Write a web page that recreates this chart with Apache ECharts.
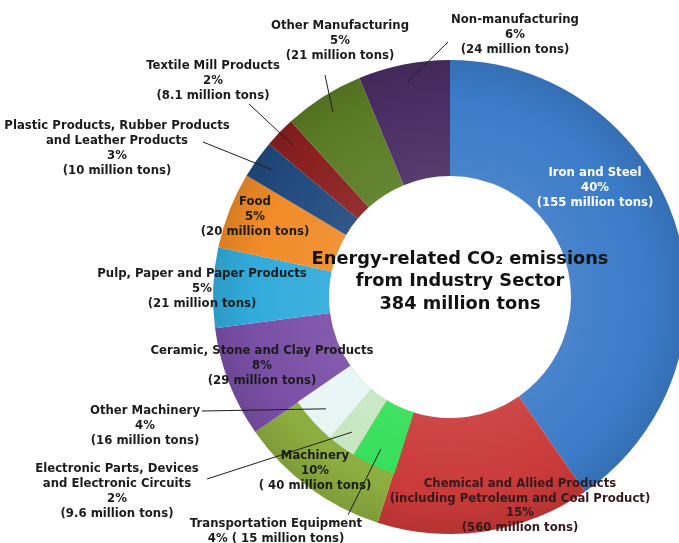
<!DOCTYPE html>
<html>
<head>
<meta charset="utf-8">
<script src="https://cdn.jsdelivr.net/npm/echarts@6/dist/echarts.min.js"></script>
<style>
  html, body { margin: 0; padding: 0; background: #ffffff; }
  #chart { width: 679px; height: 543px; }
</style>
</head>
<body>
<div id="chart"></div>
<script>
// Industry sectors, clockwise from 12 o'clock
const sectors = [
  'Iron and Steel',
  'Chemical and Allied Products\n(including Petroleum and Coal Product)',
  'Machinery',
  'Ceramic, Stone and Clay Products',
  'Pulp, Paper and Paper Products',
  'Food',
  'Plastic Products, Rubber Products\nand Leather Products',
  'Textile Mill Products',
  'Other Manufacturing',
  'Non-manufacturing'
];
// Emissions, million tons of CO2
const sectorTons = [155, 56, 40, 29, 21, 20, 10, 8.1, 21, 24];
// Share of the industry total, %
const sectorShares = [40, 15, 10, 8, 5, 5, 3, 2, 5, 6];
// Tonnage as printed on each label
const sectorTonsText = ['155', '560', ' 40', '29', '21', '20', '10', '8.1', '21', '24'];

// Breakdown of the Machinery sector, same clockwise order
const machinery = [
  'Transportation Equipment',
  'Electronic Parts, Devices\nand Electronic Circuits',
  'Other Machinery'
];
const machineryTons = [15, 9.6, 16];
const machineryShares = [4, 2, 4];
const machineryTonsText = [' 15', '9.6', '16'];

const totalTons = 384;

// ---- styling ----
const CX = 450, CY = 297;
const R_HOLE = 121, R_SPLIT = 185, R_OUT = 237;
const FONT = '"DejaVu Sans", Verdana, sans-serif';

const sectorColors = ['#3b7bc8', '#c93a39', '#8cad3f', '#7a4fa6', '#31abdb',
  '#f08b28', '#214a7e', '#8a2020', '#5b7c25', '#4a2d63'];
const machineryColors = ['#34df59', '#c6e7c2', '#e7f5f5'];

// Where each label sits (centre of the text block) and where its leader starts
const labelSpots = {
  'Iron and Steel': { x: 595, y: 188, color: '#ffffff' },
  'Chemical and Allied Products\n(including Petroleum and Coal Product)': { x: 520, y: 506, lh: 14.5, color: '#33191c' },
  'Machinery': { x: 315, y: 471 },
  'Ceramic, Stone and Clay Products': { x: 262, y: 366 },
  'Pulp, Paper and Paper Products': { x: 202, y: 289 },
  'Food': { x: 255, y: 217 },
  'Plastic Products, Rubber Products\nand Leather Products': { x: 117, y: 148, from: [203, 142] },
  'Textile Mill Products': { x: 213, y: 81, from: [249, 104] },
  'Other Manufacturing': { x: 340, y: 41, from: [325, 75] },
  'Non-manufacturing': { x: 515, y: 35, from: [448, 42] },
  'Transportation Equipment': { x: 276, y: 531, inline: true, from: [348, 515] },
  'Electronic Parts, Devices\nand Electronic Circuits': { x: 117, y: 491, from: [207, 479] },
  'Other Machinery': { x: 145, y: 426, from: [202, 411] }
};

function hexToRgb(h) {
  const n = parseInt(h.slice(1), 16);
  return [(n >> 16) & 255, (n >> 8) & 255, n & 255];
}
function shade(h, f) {
  const c = hexToRgb(h).map(v => f < 0 ? Math.round(v * (1 + f)) : Math.round(v + (255 - v) * f));
  return 'rgb(' + c.join(',') + ')';
}
// soft bevel across the ring
function ringFill(color) {
  return {
    type: 'radial', x: CX, y: CY, r: R_OUT, global: true,
    colorStops: [
      { offset: 0, color: shade(color, 0.07) },
      { offset: R_HOLE / R_OUT, color: shade(color, 0.07) },
      { offset: 0.84, color: color },
      { offset: 1, color: shade(color, -0.1) }
    ]
  };
}

function labelText(name, share, tonsText) {
  const spot = labelSpots[name] || {};
  return name + '\n' + share + '%' + (spot.inline ? ' ' : '\n') + '(' + tonsText + ' million tons)';
}

const CLEAR = 'rgba(0,0,0,0)';

// visible = filled slice without text; otherwise a clear slice that carries the label
function makeItem(name, value, share, tonsText, color, visible) {
  const spot = labelSpots[name] || {};
  if (visible) {
    return { name: name, value: value, itemStyle: { color: ringFill(color) },
      label: { show: false }, labelLine: { show: false } };
  }
  return {
    name: name,
    value: value,
    itemStyle: { color: CLEAR },
    label: {
      show: true,
      formatter: labelText(name, share, tonsText),
      color: spot.color || '#1b1b1b',
      lineHeight: spot.lh || 15
    },
    labelLine: { show: !!spot.from }
  };
}

function outerRing(visible) {
  return sectors.map((n, i) =>
    makeItem(n, sectorTons[i], sectorShares[i], sectorTonsText[i], sectorColors[i], visible));
}
// Inner band: only the Machinery part differs, split into its sub-sectors
function innerRing(visible) {
  const out = [];
  sectors.forEach((n, i) => {
    if (n === 'Machinery') {
      machinery.forEach((m, j) => out.push(
        makeItem(m, machineryTons[j], machineryShares[j], machineryTonsText[j], machineryColors[j], visible)));
    } else {
      out.push({ name: n, value: sectorTons[i], itemStyle: { color: CLEAR },
        label: { show: false }, labelLine: { show: false } });
    }
  });
  return out;
}

const seriesData = [outerRing(true), innerRing(true), outerRing(false), innerRing(false)];

function placeLabel(params) {
  const item = seriesData[params.seriesIndex][params.dataIndex];
  const spot = item && labelSpots[item.name];
  if (!spot) return {};
  const out = { x: spot.x, y: spot.y, align: 'center', verticalAlign: 'middle' };
  const pts = params.labelLinePoints;
  if (spot.from && pts && pts.length) {
    const ex = pts[0][0], ey = pts[0][1];
    const dx = ex - CX, dy = ey - CY, len = Math.hypot(dx, dy) || 1;
    const inset = 18;
    const tip = [ex - dx / len * inset, ey - dy / len * inset];
    const mid = [(tip[0] + spot.from[0]) / 2, (tip[1] + spot.from[1]) / 2];
    out.labelLinePoints = [tip, mid, spot.from];
  }
  return out;
}

const baseLabel = {
  show: false, position: 'outside',
  fontFamily: FONT, fontWeight: 'bold', fontSize: 11.7, lineHeight: 15,
  color: '#1b1b1b', align: 'center'
};
const baseLine = { show: false, length: 8, length2: 8, smooth: false,
  lineStyle: { color: '#1e1e1e', width: 1 } };

function ring(radius, data, z) {
  return {
    type: 'pie', center: [CX, CY], radius: radius, z: z,
    startAngle: 90, clockwise: true, avoidLabelOverlap: false, silent: true,
    itemStyle: { borderWidth: 0 },
    label: baseLabel, labelLine: baseLine,
    labelLayout: placeLabel,
    data: data
  };
}

const chart = echarts.init(document.getElementById('chart'), null, { renderer: 'canvas' });
chart.setOption({
  animation: false,
  backgroundColor: '#ffffff',
  title: {
    text: 'Energy-related CO\u2082 emissions\nfrom Industry Sector\n' + totalTons + ' million tons',
    left: CX + 5, top: 243, textAlign: 'center',
    textStyle: { fontFamily: FONT, fontWeight: 'bold', fontSize: 17.75, lineHeight: 22.5, color: '#121212' }
  },
  series: [
    ring([R_HOLE, R_OUT], seriesData[0], 2),
    ring([R_HOLE, R_SPLIT], seriesData[1], 2),
    ring([R_HOLE, R_OUT], seriesData[2], 4),
    ring([R_HOLE, R_SPLIT], seriesData[3], 4)
  ]
});
</script>
</body>
</html>
